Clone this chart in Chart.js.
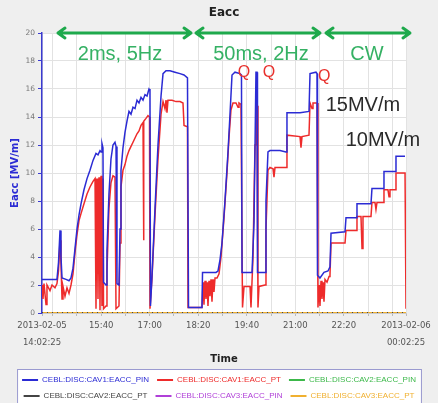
<!DOCTYPE html>
<html>
<head>
<meta charset="utf-8">
<title>Eacc</title>
<script src="https://cdn.jsdelivr.net/npm/chart.js@4.4.1/dist/chart.umd.min.js"></script>
<style>
  html, body { margin: 0; padding: 0; background: #efefef; overflow: hidden; }
  #wrap { position: relative; width: 438px; height: 410px; }
</style>
</head>
<body>
<div id="wrap"><canvas id="eacc-chart"></canvas></div>
<script>
// time axis: minutes after 2013-02-05 14:02:25 (window is 10 h long)
const pinMinutes = [0, 24.7, 27.2, 29.7, 31.3, 33.0, 39.6, 44.5, 47.8, 51.1, 54.4, 57.7, 61.0, 64.3, 69.2, 74.2, 79.1, 84.1, 89.0, 92.3, 95.6, 97.3, 98.9, 100.5,
  101.4, 105.5, 107.1, 110.4, 113.7, 117.0, 120.3, 122.0, 123.6, 126.9, 128.6, 130.2, 133.5, 136.8, 140.1, 143.4, 146.7, 150.0, 153.3, 156.6, 159.9, 163.2, 166.5, 169.8, 173.1, 176.4, 178.0,
  178.8, 181.3, 186.3, 191.2, 196.2, 199.5, 204.4, 211.0, 219.2, 227.5, 234.1, 239.8, 241.5, 263.7,
  264.6, 276.9, 286.8, 290.1, 293.4, 296.7, 301.6, 306.6, 309.9, 313.2, 318.1, 326.4, 328.8, 329.7, 341.2,
  346.2, 349.5, 352.7, 354.4, 355.2, 367.6, 369.2, 372.5, 375.8, 392.3, 402.2, 403.8, 425.3, 440.1, 441.8, 451.6, 453.3,
  454.1, 458.2, 464.8, 471.4, 474.7, 476.4, 499.5, 501.1, 517.6, 519.2, 542.3, 543.9, 562.1, 563.7, 581.9, 583.5, 598.4];
const pinEacc = [2.4, 2.4, 3.6, 5.9, 4.0, 2.5, 2.4, 2.3, 2.5, 3.2, 4.6, 6.0, 7.0, 7.8, 8.8, 9.6, 10.2, 10.9, 11.4, 11.3, 11.6, 11.5, 12.1, 11.8,
  2.2, 2.0, 4.5, 8.5, 11.0, 12.0, 12.2, 11.9, 2.1, 2.0, 6.0, 10.2, 11.8, 12.9, 13.7, 14.4, 14.2, 14.7, 14.6, 15.2, 15.0, 15.4, 15.2, 15.6, 15.5, 16.0, 15.9,
  0.5, 2.6, 7.5, 12.0, 15.5, 17.1, 17.3, 17.3, 17.2, 17.1, 17.0, 16.8, 0.4, 0.4,
  2.9, 2.9, 2.9, 3.0, 3.8, 5.0, 8.0, 11.5, 14.2, 17.0, 17.2, 17.1, 17.0, 2.9, 2.9,
  2.9, 6.5, 17.2, 17.2, 2.9, 2.9, 8.0, 11.5, 11.6, 11.6, 11.5, 14.3, 14.3, 14.4, 17.1, 17.2, 17.1,
  2.7, 2.5, 2.9, 3.0, 3.3, 5.7, 5.8, 6.8, 6.8, 7.8, 7.8, 8.9, 8.9, 10.1, 10.1, 11.2, 11.2];

const ptMinutes = [0, 1.6, 3.3, 6.6, 8.2, 13.2, 16.5, 21.4, 24.7, 27.2, 29.7, 31.3, 33.0, 34.6, 37.9, 41.2, 44.5, 47.8, 51.1, 54.4, 57.7, 61.0, 64.3,
  69.2, 74.2, 79.1, 84.1, 87.4, 89.0, 90.7, 92.3, 94.0, 95.6, 97.3, 98.9, 100.5, 101.4, 105.5, 107.1, 110.4, 113.7, 117.0, 120.3, 122.0, 126.9,
  128.6, 130.2, 133.5, 136.8, 140.1, 143.4, 146.7, 150.0, 153.3, 156.6, 159.9, 163.2, 166.5, 167.3, 168.1, 171.4, 174.7, 177.2, 178.0,
  181.3, 186.3, 191.2, 196.2, 199.5, 202.7, 204.4, 206.0, 207.7, 214.3, 220.9, 227.5, 232.4, 234.1, 239.8, 240.7, 263.7,
  265.4, 267.0, 268.7, 270.3, 272.0, 273.6, 275.3, 276.9, 278.6, 280.2, 281.9, 283.5, 285.2, 288.5, 291.8, 295.1, 300.0, 304.9, 308.2, 311.5,
  314.8, 319.8, 323.1, 324.7, 328.0, 330.5, 333.0, 342.9, 344.5, 347.8, 351.1, 352.7, 354.4, 356.0, 357.7, 367.6,
  369.2, 372.5, 375.8, 380.8, 382.4, 384.1, 402.2, 403.8, 425.3, 426.9, 428.6, 440.1, 441.8, 445.1, 446.7, 453.3,
  454.9, 456.6, 458.2, 459.9, 461.5, 463.2, 464.8, 466.5, 469.8, 473.1, 474.7, 476.4, 499.5, 501.1, 517.6, 519.2,
  525.8, 527.5, 529.1, 542.3, 543.9, 548.9, 550.5, 552.2, 562.1, 563.7, 570.3, 572.0, 573.6, 581.9, 583.5, 598.4, 600.0];
const ptEacc = [2.0, 1.0, 2.1, 0.6, 2.0, 1.6, 2.0, 1.8, 2.1, 3.0, 5.2, 3.5, 1.0, 1.9, 1.2, 1.8, 1.4, 2.0, 2.8, 4.3, 5.6, 6.6, 7.1,
  7.8, 8.5, 9.0, 9.4, 9.6, 0.3, 9.6, 1.0, 9.7, 0.2, 9.8, 0.5, 9.6, 0.3, 0.5, 3.0, 7.5, 9.3, 9.8, 9.7, 0.3, 0.5,
  5.0, 9.0, 10.2, 10.6, 11.2, 11.6, 11.9, 12.2, 12.5, 12.8, 13.0, 13.4, 13.6, 5.2, 13.7, 13.9, 14.1, 14.0, 0.3,
  2.5, 7.0, 11.0, 14.2, 15.1, 14.6, 15.2, 14.3, 15.2, 15.2, 15.1, 15.1, 15.0, 13.4, 13.3, 0.4, 0.4,
  2.2, 0.6, 2.3, 1.0, 2.2, 0.5, 2.3, 1.2, 2.4, 0.8, 2.4, 1.5, 2.5, 2.5, 2.8, 4.0, 6.8, 10.0, 12.5, 14.5,
  15.0, 15.0, 14.7, 15.0, 14.9, 0.4, 1.9, 1.9, 0.4, 4.0, 12.0, 15.0, 14.8, 0.4, 1.9, 2.0,
  6.0, 10.2, 10.4, 10.3, 9.7, 10.4, 10.4, 12.7, 12.6, 11.8, 12.6, 12.7, 15.0, 14.6, 15.0, 15.0,
  0.4, 2.0, 0.5, 2.3, 1.0, 2.2, 0.8, 2.4, 2.2, 2.6, 2.7, 5.0, 5.0, 5.9, 5.9, 6.9,
  6.9, 4.6, 6.9, 6.9, 7.9, 7.9, 7.4, 7.9, 7.9, 8.8, 8.8, 8.3, 8.8, 8.8, 10.0, 10.0, 0.3];

// the other four channels sit at zero for the whole window
const flatMinutes = [0, 600];
const flatEacc = [0, 0];

const seriesNames = [
  "CEBL:DISC:CAV1:EACC_PIN", "CEBL:DISC:CAV1:EACC_PT", "CEBL:DISC:CAV2:EACC_PIN",
  "CEBL:DISC:CAV2:EACC_PT", "CEBL:DISC:CAV3:EACC_PIN", "CEBL:DISC:CAV3:EACC_PT"
];
const seriesColors = ["#2b2bd4", "#ee2b2b", "#3cb84a", "#444444", "#b040d8", "#f0b030"];

const tickMinutes = [97.58, 177.58, 257.58, 337.58, 417.58, 497.58];
const tickLabels = ["15:40", "17:00", "18:20", "19:40", "21:00", "22:20"];
const startLabel = ["2013-02-05", "14:02:25"];
const endLabel = ["2013-02-06", "00:02:25"];

// annotations, in axis units
const modeSpans = [[24.7, 247.3], [252.2, 459.9], [466.5, 608.2]];
const modeLabels = ["2ms, 5Hz", "50ms, 2Hz", "CW"];
const modeLabelMinutes = [128.6, 361, 535.7];
const quenchMinutes = [333, 374, 465];
const quenchEacc = [17.2, 17.2, 16.9];
const levelLabels = ["15MV/m", "10MV/m"];
const levelMinutes = [529, 562];
const levelEacc = [14.8, 12.3];

function toPoints(xs, ys) {
  return xs.map((x, i) => ({ x: x, y: ys[i] }));
}

function sameTick(a, b) {
  return Math.abs(a - b) < 0.01;
}

/**
 * White plot area, white legend panel with a thin border.
 */
const panelPlugin = {
  id: "panels",
  beforeDraw(chart) {
    const { ctx, chartArea: a, legend } = chart;
    ctx.save();
    ctx.fillStyle = "#ffffff";
    ctx.fillRect(a.left, a.top, a.right - a.left, a.bottom - a.top);
    if (legend && legend.legendHitBoxes.length) {
      const boxes = legend.legendHitBoxes;
      const l = Math.min(...boxes.map(b => b.left)) - 5;
      const r = Math.max(...boxes.map(b => b.left + b.width)) + 5;
      ctx.fillRect(l, legend.top + 1, r - l, chart.height);
      ctx.strokeStyle = "#9a9ad0";
      ctx.lineWidth = 1;
      ctx.strokeRect(l + 0.5, legend.top + 1.5, r - l, chart.height);
    }
    ctx.restore();
  },
};

/**
 * Mode arrows, quench marks and gradient labels.
 */
const notesPlugin = {
  id: "notes",
  afterDatasetsDraw(chart) {
    const { ctx, scales: { x, y } } = chart;
    ctx.save();
    ctx.strokeStyle = "#1ea94c";
    ctx.lineWidth = 3;
    ctx.lineCap = "round";
    ctx.lineJoin = "round";
    const ay = y.getPixelForValue(20);
    modeSpans.forEach(([m0, m1]) => {
      const x0 = x.getPixelForValue(m0);
      const x1 = x.getPixelForValue(m1);
      ctx.beginPath();
      ctx.moveTo(x0 + 1, ay);
      ctx.lineTo(x1 - 1, ay);
      ctx.moveTo(x0 + 8, ay - 5);
      ctx.lineTo(x0 + 1, ay);
      ctx.lineTo(x0 + 8, ay + 5);
      ctx.moveTo(x1 - 8, ay - 5);
      ctx.lineTo(x1 - 1, ay);
      ctx.lineTo(x1 - 8, ay + 5);
      ctx.stroke();
    });

    ctx.textAlign = "center";
    ctx.textBaseline = "middle";
    ctx.fillStyle = "#35b164";
    ctx.font = "20px 'Liberation Sans', Arial, sans-serif";
    modeLabels.forEach((t, i) => {
      ctx.fillText(t, x.getPixelForValue(modeLabelMinutes[i]), y.getPixelForValue(18.5));
    });

    ctx.fillStyle = "#e8302c";
    ctx.font = "16px 'Liberation Sans', Arial, sans-serif";
    quenchMinutes.forEach((m, i) => {
      ctx.fillText("Q", x.getPixelForValue(m), y.getPixelForValue(quenchEacc[i]));
    });

    ctx.fillStyle = "#2a2a2a";
    ctx.font = "20px 'Liberation Sans', Arial, sans-serif";
    levelLabels.forEach((t, i) => {
      ctx.fillText(t, x.getPixelForValue(levelMinutes[i]), y.getPixelForValue(levelEacc[i]));
    });
    ctx.restore();
  },
};

const gridMinutes = [0];
for (let m = 17.58; m < 600; m += 40) gridMinutes.push(m);
gridMinutes.push(600);

const lineOrder = [0, 1, 4, 2, 5, 3];
const datasets = seriesNames.map((name, i) => ({
  label: name,
  data: i === 0 ? toPoints(pinMinutes, pinEacc)
      : i === 1 ? toPoints(ptMinutes, ptEacc)
      : toPoints(flatMinutes, flatEacc),
  borderColor: seriesColors[i],
  backgroundColor: seriesColors[i],
  borderWidth: i < 2 ? 1.5 : 2,
  borderDash: i === 3 ? [1, 4] : [],
  pointRadius: 0,
  tension: 0,
  order: lineOrder[i],
}));

const tickFont = { family: "'DejaVu Sans', sans-serif", size: 8.5, lineHeight: 2.0 };

new Chart(document.getElementById("eacc-chart"), {
  type: "line",
  data: { datasets: datasets },
  plugins: [panelPlugin, notesPlugin],
  options: {
    responsive: true,
    maintainAspectRatio: false,
    animation: false,
    devicePixelRatio: 1,
    layout: { padding: 0 },
    scales: {
      x: {
        type: "linear",
        min: 0,
        max: 600,
        afterFit(scale) { scale.height = 55; },
        afterBuildTicks(scale) { scale.ticks = gridMinutes.map(v => ({ value: v })); },
        grid: { color: "#e2e2e2", tickLength: 3, tickColor: "#bbbbbb" },
        border: { color: "#cccccc" },
        ticks: {
          autoSkip: false,
          maxRotation: 0,
          padding: 1,
          color: "#555555",
          font: tickFont,
          callback(value) {
            if (sameTick(value, 0)) return startLabel;
            if (sameTick(value, 600)) return endLabel;
            const k = tickMinutes.findIndex(t => sameTick(t, value));
            return k >= 0 ? tickLabels[k] : "";
          },
        },
        title: {
          display: true,
          text: "Time",
          color: "#222222",
          font: { family: "'DejaVu Sans', sans-serif", size: 10, weight: "bold", lineHeight: 1.2 },
          padding: { top: 0, bottom: 3 },
        },
      },
      y: {
        min: 0,
        max: 20,
        afterFit(scale) { scale.width = 42; },
        ticks: {
          stepSize: 2,
          padding: 3,
          color: "#777777",
          font: { family: "'DejaVu Sans', sans-serif", size: 7.5 },
        },
        grid: { color: "#e2e2e2", tickLength: 4, tickColor: "#3a3ad0" },
        border: { color: "#3a3ad0", width: 1.5 },
        title: {
          display: true,
          text: "Eacc [MV/m]",
          color: "#2b2bd4",
          font: { family: "'DejaVu Sans', sans-serif", size: 10, weight: "bold", lineHeight: 1.2 },
          padding: { top: 9, bottom: 0 },
        },
      },
      // empty right-hand strip, keeps the plot off the right edge
      yRight: {
        position: "right",
        min: 0,
        max: 1,
        afterFit(scale) { scale.width = 32; },
        ticks: { display: false },
        grid: { display: false, drawTicks: false },
        border: { display: false },
      },
    },
    plugins: {
      title: {
        display: true,
        text: "Eacc",
        fullSize: false,
        color: "#222222",
        font: { family: "'DejaVu Sans', sans-serif", size: 12, weight: "bold", lineHeight: 1.2 },
        padding: { top: 6, bottom: 12.6 },
      },
      legend: {
        display: true,
        position: "bottom",
        align: "center",
        labels: {
          boxWidth: 16,
          boxHeight: 2,
          padding: 8,
          font: { family: "'Liberation Sans', Arial, sans-serif", size: 8 },
          generateLabels(chart) {
            return chart.data.datasets.map((ds, i) => ({
              text: ds.label,
              fillStyle: ds.borderColor,
              strokeStyle: ds.borderColor,
              fontColor: ds.borderColor,
              lineWidth: 0,
              hidden: false,
              datasetIndex: i,
            }));
          },
        },
      },
      tooltip: { enabled: false },
    },
  },
});
</script>
</body>
</html>
